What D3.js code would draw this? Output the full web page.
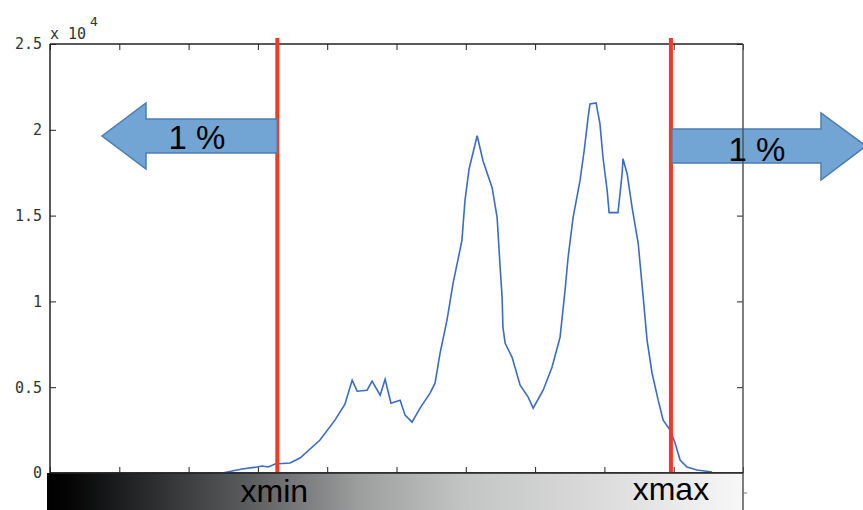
<!DOCTYPE html>
<html><head><meta charset="utf-8">
<script src="https://cdn.jsdelivr.net/npm/d3@7"></script>
<style>html,body{margin:0;padding:0;background:#fff;overflow:hidden}</style>
</head><body>
<svg id="c" width="863" height="510"></svg>
<script>
// histogram bins (grey level) and counts
const bins = [62,64,69.3,74.7,76.5,78.7,81.2,86.6,90.2,97.4,102.8,106.4,109.0,110.8,114.4,116.2,119.1,120.9,123.0,126.3,128.1,130.6,133.5,137.1,138.9,140.7,143.2,145.4,148.6,149.7,151.2,154.1,156.2,159.5,161.3,162.3,163.1,163.4,164.2,166.7,169.6,172.5,174.3,177.9,181.1,184.0,185.8,186.9,188.7,191.2,192.7,194.1,194.8,197.0,198.4,199.5,201.0,201.7,204.9,206.4,206.7,208.2,210.0,212.2,214.0,215.4,217.2,219.4,221.2,223.7,225.5,227.3,229.8,233.4,238.8];
const counts = [0,60,233,349,407,349,523,581,872,1919,3081,4012,5407,4767,4826,5349,4535,5465,4070,4244,3372,2965,3779,4651,5233,6977,8895,11047,13547,15872,17733,19651,18198,16628,14884,12209,10233,8488,7558,6744,5116,4419,3779,4826,6163,7907,10640,12558,14884,17035,18779,20698,21512,21570,20349,18372,16453,15174,15174,17442,18314,17442,15465,13372,10233,7733,5814,4244,3081,2500,1744,756,349,174,58];
const yTicks = [0,5000,10000,15000,20000,25000];
const yTickLabels = ["0","0.5","1","1.5","2","2.5"];
const xTicks = [0,25,50,75,100,125,150,175,200,225,250];
const cutoffs = [82,224];
const cutoffLabels = ["xmin","xmax"];
const arrowLabels = ["1 %","1 %"];

const svg = d3.select("#c");
const L=50,R=743,T=44,B=473;
const x = d3.scaleLinear().domain([0,250]).range([L,R]);
const y = d3.scaleLinear().domain([0,25000]).range([B,T]);

// axes box
const axCol="#222";
svg.append("g").attr("transform",`translate(${L},0)`)
  .call(d3.axisLeft(y).tickValues(yTicks).tickSize(-6).tickFormat((d,i)=>yTickLabels[i]).tickPadding(8))
  .call(g=>g.select(".domain").remove())
  .call(g=>g.selectAll("line").attr("stroke",axCol))
  .call(g=>g.selectAll("text").attr("font-family","DejaVu Sans Mono").attr("font-size",15).attr("fill","#333"));
svg.append("g").attr("transform",`translate(${R},0)`)
  .call(d3.axisRight(y).tickValues(yTicks).tickSize(-6).tickFormat(""))
  .call(g=>g.select(".domain").remove()).call(g=>g.selectAll("line").attr("stroke",axCol));
svg.append("g").attr("transform",`translate(0,${B})`)
  .call(d3.axisBottom(x).tickValues(xTicks).tickSize(-6).tickFormat(""))
  .call(g=>g.select(".domain").remove()).call(g=>g.selectAll("line").attr("stroke",axCol));
svg.append("g").attr("transform",`translate(0,${T})`)
  .call(d3.axisTop(x).tickValues(xTicks).tickSize(-6).tickFormat(""))
  .call(g=>g.select(".domain").remove()).call(g=>g.selectAll("line").attr("stroke",axCol));
svg.append("line").attr("x1",L).attr("x2",L).attr("y1",T).attr("y2",B).attr("stroke",axCol).attr("stroke-width",1.5);
svg.append("line").attr("x1",L).attr("x2",R).attr("y1",T).attr("y2",T).attr("stroke",axCol).attr("stroke-width",1.5);
svg.append("line").attr("x1",L).attr("x2",R).attr("y1",B).attr("y2",B).attr("stroke",axCol).attr("stroke-width",1.5);

// exponent label
svg.append("text").attr("x",L).attr("y",39).attr("font-family","DejaVu Sans Mono").attr("font-size",15).attr("fill","#333").text("x 10");
svg.append("text").attr("x",L+40).attr("y",26).attr("font-family","DejaVu Sans Mono").attr("font-size",13).attr("fill","#333").text("4");

// histogram line
const pts = bins.map((b,i)=>[b,counts[i]]);
svg.append("path").datum(pts)
  .attr("d",d3.line().x(d=>x(d[0])).y(d=>y(d[1])))
  .attr("fill","none").attr("stroke","#3b6cc4").attr("stroke-width",1.6);

// cutoff lines
svg.selectAll(".cut").data(cutoffs).join("line")
  .attr("x1",d=>x(d)).attr("x2",d=>x(d)).attr("y1",38).attr("y2",B)
  .attr("stroke","#f03a24").attr("stroke-width",4);

// arrows
const fillA="#72a5d3", strokeA="#4b7db3";
const x0=x(cutoffs[0]), x1=x(cutoffs[1]);
const leftArrow = [[x0,119],[146,119],[146,103],[102,136],[146,169],[146,153],[x0,153]];
const rightArrow = [[x1+1,129],[821,129],[821,113],[866,146],[821,180],[821,163],[x1+1,163]];
svg.append("path").attr("d","M"+leftArrow.join("L")+"Z").attr("fill",fillA).attr("stroke",strokeA).attr("stroke-width",1.5);
svg.append("path").attr("d","M"+rightArrow.join("L")+"Z").attr("fill",fillA).attr("stroke",strokeA).attr("stroke-width",1.5);
// right axis line visible through arrow
svg.append("line").attr("x1",R).attr("x2",R).attr("y1",T).attr("y2",B).attr("stroke","#555").attr("stroke-width",1.5);
svg.append("text").attr("x",197).attr("y",149).attr("text-anchor","middle")
  .attr("font-family","Liberation Sans").attr("font-size",33).attr("fill","#000").text(arrowLabels[0]);
svg.append("text").attr("x",757).attr("y",161).attr("text-anchor","middle")
  .attr("font-family","Liberation Sans").attr("font-size",33).attr("fill","#000").text(arrowLabels[1]);

// gradient bar
const defs = svg.append("defs");
const gr = defs.append("linearGradient").attr("id","gb").attr("x1","0%").attr("x2","100%");
[[0,"#000"],[0.03,"#040404"],[0.15,"#2b2d2f"],[0.3,"#5e6062"],[0.45,"#9d9e9e"],[0.6,"#c3c4c4"],[0.8,"#dcdcdc"],[1,"#f7f7f7"]]
  .forEach(s=>gr.append("stop").attr("offset",s[0]).attr("stop-color",s[1]));
svg.append("rect").attr("x",47).attr("y",B).attr("width",R-47).attr("height",510-B).attr("fill","url(#gb)");
svg.append("line").attr("x1",R).attr("x2",R).attr("y1",B).attr("y2",510).attr("stroke","#555").attr("stroke-width",1.5);
svg.append("line").attr("x1",R).attr("x2",R+4).attr("y1",493).attr("y2",493).attr("stroke","#777").attr("stroke-width",1);
svg.append("line").attr("x1",L).attr("x2",R).attr("y1",B).attr("y2",B).attr("stroke",axCol).attr("stroke-width",1.5);

svg.append("text").attr("x",x(cutoffs[0])-3).attr("y",502).attr("text-anchor","middle")
  .attr("font-family","Liberation Sans").attr("font-size",32).attr("fill","#000").text(cutoffLabels[0]);
svg.append("text").attr("x",x(cutoffs[1])).attr("y",500).attr("text-anchor","middle")
  .attr("font-family","Liberation Sans").attr("font-size",32).attr("fill","#000").text(cutoffLabels[1]);
</script>
</body></html>
